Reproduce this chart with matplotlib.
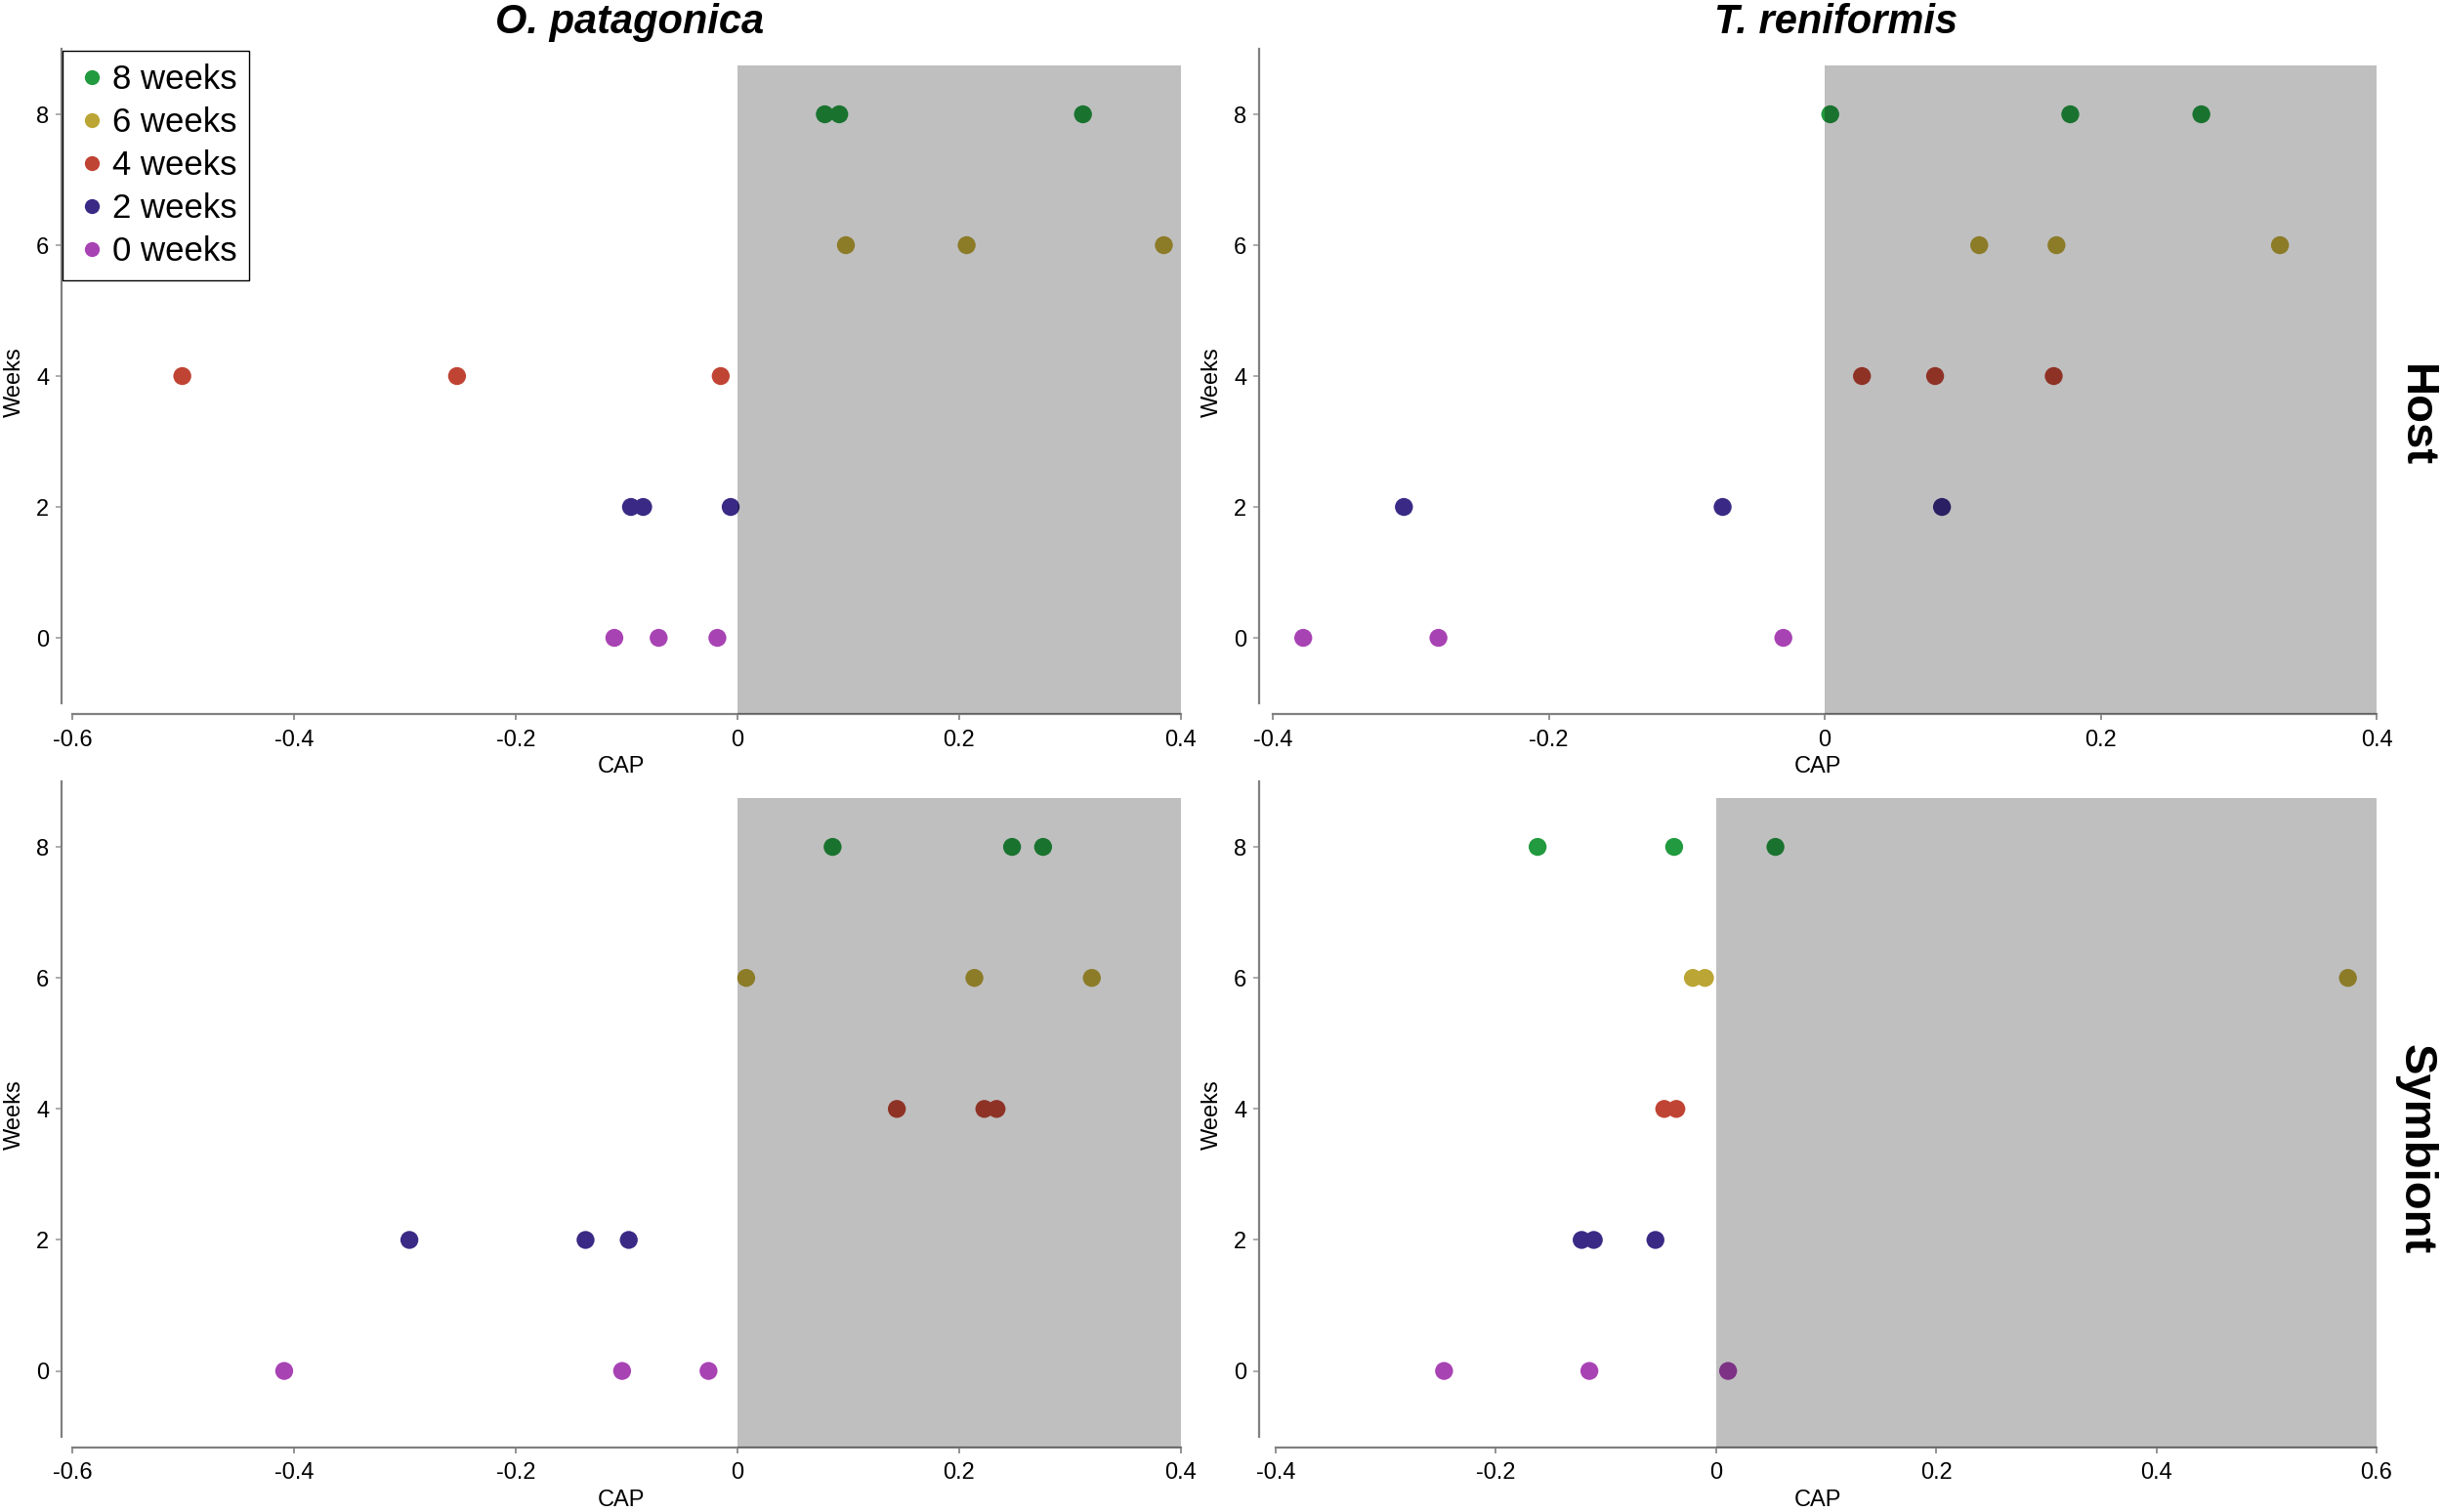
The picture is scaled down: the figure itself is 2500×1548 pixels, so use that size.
import matplotlib
matplotlib.use("Agg")
import matplotlib.pyplot as plt
from matplotlib.lines import Line2D

# CAP scores per sampling week (rows: 8, 6, 4, 2, 0 weeks)
weeks = [8, 6, 4, 2, 0]
week_labels = ["8 weeks", "6 weeks", "4 weeks", "2 weeks", "0 weeks"]
week_colors = ["#229a3f", "#bba535", "#c04434", "#3a2a85", "#a843b4"]

op_host = [
    [0.079, 0.092, 0.312],
    [0.098, 0.207, 0.385],
    [-0.501, -0.253, -0.015],
    [-0.096, -0.085, -0.006],
    [-0.111, -0.071, -0.018],
]
tr_host = [
    [0.004, 0.178, 0.273],
    [0.112, 0.168, 0.330],
    [0.027, 0.080, 0.166],
    [-0.305, -0.074, 0.085],
    [-0.378, -0.280, -0.030],
]
op_sym = [
    [0.086, 0.248, 0.276],
    [0.008, 0.214, 0.320],
    [0.144, 0.223, 0.234],
    [-0.296, -0.137, -0.098],
    [-0.409, -0.104, -0.026],
]
tr_sym = [
    [-0.162, -0.038, 0.054],
    [-0.021, -0.010, 0.574],
    [-0.047, -0.036],
    [-0.122, -0.111, -0.055],
    [-0.247, -0.115, 0.011],
]

col_titles = ["O. patagonica", "T. reniformis"]
row_titles = ["Host", "Symbiont"]
x_ticks = [
    [-0.6, -0.4, -0.2, 0, 0.2, 0.4],
    [-0.4, -0.2, 0, 0.2, 0.4],
    [-0.6, -0.4, -0.2, 0, 0.2, 0.4],
    [-0.4, -0.2, 0, 0.2, 0.4, 0.6],
]
x_tick_labels = [[("%g" % t) for t in ticks] for ticks in x_ticks]
y_ticks = [0, 2, 4, 6, 8]

plt.rcParams["font.family"] = ["Liberation Sans", "DejaVu Sans"]

fig = plt.figure(figsize=(25, 15.48), dpi=100)

panels = [op_host, tr_host, op_sym, tr_sym]
lefts = [0.0252, 0.5156, 0.0252, 0.5156]
widths = [0.4582, 0.4576, 0.4582, 0.4576]
bottoms = [0.5275, 0.5275, 0.0426, 0.0426]
heights = [0.4402, 0.4402, 0.4406, 0.4406]
xlims = [(-0.61, 0.4), (-0.41, 0.4), (-0.61, 0.4), (-0.415, 0.6)]
y_lo, y_hi, shade_top = -1.17, 9.0, 8.75

for i, data in enumerate(panels):
    ax = fig.add_axes([lefts[i], bottoms[i], widths[i], heights[i]])
    for w, vals, c in zip(weeks, data, week_colors):
        ax.scatter(vals, [w] * len(vals), s=175, color=c, edgecolors="none", zorder=2)
    x0, x1 = xlims[i]
    ax.set_xlim(x0, x1)
    ax.set_ylim(y_lo, y_hi)
    # shaded region for positive CAP scores, drawn over the points
    ax.fill_between([0, x1], y_lo, shade_top, color="black", alpha=0.25,
                    linewidth=0, zorder=3)

    ax.spines["top"].set_visible(False)
    ax.spines["right"].set_visible(False)
    for s in ["left", "bottom"]:
        ax.spines[s].set_color("#808080")
        ax.spines[s].set_linewidth(1.6)
    ax.spines["left"].set_bounds(-1, 9)
    ax.spines["bottom"].set_bounds(x_ticks[i][0], x_ticks[i][-1])

    ax.set_xticks(x_ticks[i])
    ax.set_xticklabels(x_tick_labels[i], fontsize=17)
    ax.set_yticks(y_ticks)
    ax.set_yticklabels([str(t) for t in y_ticks], fontsize=17)
    ax.tick_params(axis="x", length=4, width=1.2, color="#808080", pad=7)
    ax.tick_params(axis="y", length=4, width=1.2, color="#a0a0a0", pad=5)
    ax.set_xlabel("CAP", fontsize=17, labelpad=4)
    ax.set_ylabel("Weeks", fontsize=17, labelpad=8)
    ax.patch.set_visible(False)

for j, t in enumerate(col_titles):
    fig.text([0.258, 0.752][j], 0.985, t, ha="center", va="center",
             fontsize=30, fontweight="bold", fontstyle="italic")
for j, t in enumerate(row_titles):
    fig.text(0.989, [0.725, 0.24][j], t, ha="center", va="center",
             rotation=270, fontsize=34, fontweight="bold")

handles = [Line2D([], [], linestyle="none", marker="o", markersize=11,
                  markerfacecolor=c, markeredgecolor="none") for c in week_colors]
fig.legend(handles, week_labels, loc="upper left", bbox_to_anchor=(0.0256, 0.9662),
           bbox_transform=fig.transFigure, borderaxespad=0, fontsize=25,
           frameon=True, fancybox=False, edgecolor="black", framealpha=1,
           handletextpad=0.1, handlelength=1.0, labelspacing=0.32,
           borderpad=0.36)

fig.savefig("out.png", dpi=100)
